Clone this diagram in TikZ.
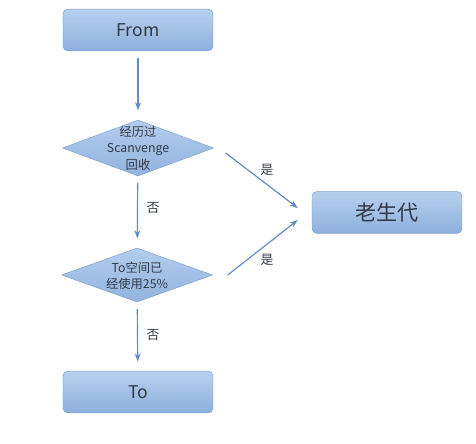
\documentclass[tikz,border=0pt]{standalone}
\usepackage{fontspec}
\setmainfont{Noto Sans CJK SC}
\usetikzlibrary{arrows.meta, shapes.geometric}

\definecolor{boxtop}{HTML}{B7D0EE}
\definecolor{boxbot}{HTML}{8DB0DD}
\definecolor{boxline}{HTML}{7C9FCF}
\definecolor{flow}{HTML}{5F8CC6}
\definecolor{ink}{HTML}{333A45}

\begin{document}
\begin{tikzpicture}[
  x=0.03cm, y=-0.03cm,
  box/.style={rectangle, rounded corners=4pt, draw=boxline, top color=boxtop, bottom color=boxbot,
    minimum width=4.5cm, minimum height=1.25cm, text=ink, font=\fontsize{15}{18}\selectfont},
  dec/.style={diamond, draw=boxline, top color=boxtop!90!boxbot, bottom color=boxbot!90!boxtop,
    minimum width=4.53cm, minimum height=1.68cm, inner sep=0pt},
  dectext/.style={align=center, text=ink, font=\fontsize{10.5}{14}\selectfont},
  lbl/.style={text=ink, font=\fontsize{11}{13}\selectfont},
  arrow/.style={-{Stealth[length=7pt, width=5pt]}, draw=flow, line width=1pt, shorten <=6pt, shorten >=8pt}
]
\useasboundingbox (0,0) rectangle (476,443);

% Main column
\node[box] (from) at (138,30) {From};
\node[dec] (d1) at (138,148) {};
\node[dectext] (d1txt) at (138,148) {经历过\\Scanvenge\\回收};
\node[dec, minimum height=1.62cm] (d2) at (137,275) {};
\node[dectext] (d2txt) at (137,276) {To空间已\\经使用25\%};
\node[box] (to) at (138,392) {To};

\draw[arrow] (from) -- (d1);
\draw[arrow] (d1) -- (d2);
\node[lbl] (no1) at (153,208) {否};
\draw[arrow] (d2) -- (to);
\node[lbl] (no2) at (153,335) {否};

% Old generation on the right
\node[box, font=\fontsize{18}{20}\selectfont] (old) at (387,212.5) {老生代};

\draw[arrow, shorten <=0pt, shorten >=0pt] ([shift={(12,5)}]d1.east) -- ([shift={(-14,-4.5)}]old.west);
\node[lbl] (yes1) at (267,170) {是};
\draw[arrow, shorten <=0pt, shorten >=0pt] ([shift={(15,0)}]d2.east) -- ([shift={(-14,7.5)}]old.west);
\node[lbl] (yes2) at (267,260) {是};

\end{tikzpicture}
\end{document}
